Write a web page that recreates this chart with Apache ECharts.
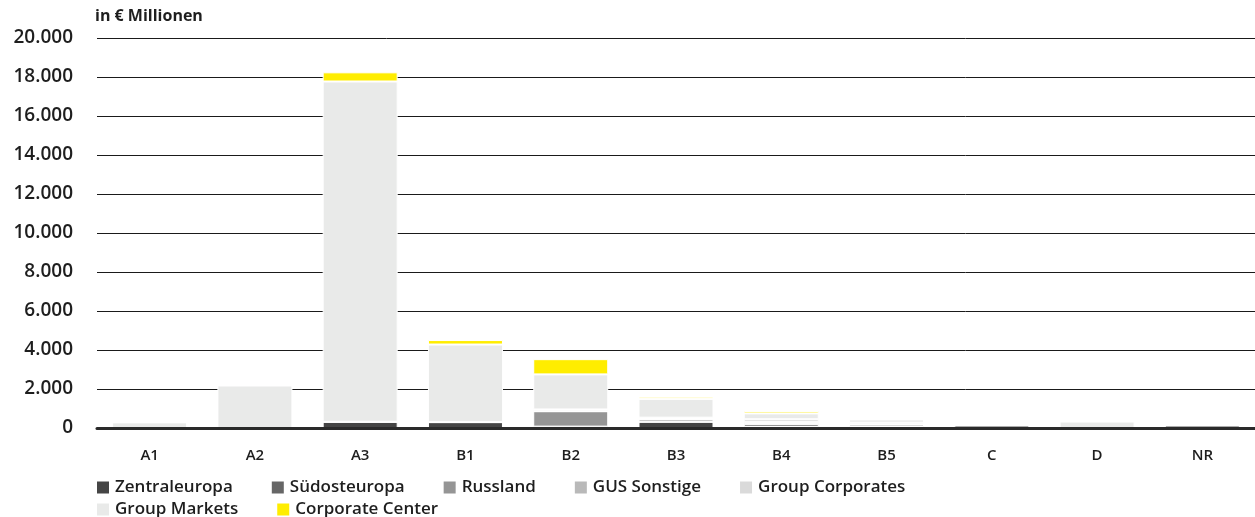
<!DOCTYPE html>
<html>
<head>
<meta charset="utf-8">
<script src="https://cdn.jsdelivr.net/npm/echarts@6/dist/echarts.min.js"></script>
<style>
  html, body { margin: 0; padding: 0; background: #fff; }
  #chart { width: 1255px; height: 517px; }
</style>
</head>
<body>
<div id="chart"></div>
<script>
// Categories along the x axis
const categories = ['A1', 'A2', 'A3', 'B1', 'B2', 'B3', 'B4', 'B5', 'C', 'D', 'NR'];

// Segment values per region, in € millions
const zentraleuropa   = [0,    0,    320,   300,  70,   320,  50,  50,  0,   0,   0];
const suedosteuropa   = [0,    0,    0,     0,    0,    0,    0,   0,   130, 0,   130];
const russland        = [0,    0,    0,     0,    790,  0,    160, 0,   0,   0,   0];
const gusSonstige     = [0,    0,    0,     0,    0,    140,  90,  130, 0,   0,   0];
const groupCorporates = [0,    0,    0,     0,    90,   70,   150, 90,  0,   0,   0];
const groupMarkets    = [290,  2180, 17450, 3980, 1800, 960,  300, 170, 0,   330, 0];
const corporateCenter = [0,    0,    470,   230,  780,  110,  120, 0,   0,   0,   0];

// Y axis range
const yMin = 0;
const yMax = 20000;
const yStep = 2000;

const seriesDefs = [
  { name: 'Zentraleuropa',    data: zentraleuropa,   color: '#454545' },
  { name: 'Südosteuropa',     data: suedosteuropa,   color: '#666666' },
  { name: 'Russland',         data: russland,        color: '#959595' },
  { name: 'GUS Sonstige',     data: gusSonstige,     color: '#b9b9b9' },
  { name: 'Group Corporates', data: groupCorporates, color: '#dadada' },
  { name: 'Group Markets',    data: groupMarkets,    color: '#e9eae9' },
  { name: 'Corporate Center', data: corporateCenter, color: '#ffed00' }
];

const FONT = '"Open Sans", "Noto Sans", sans-serif';
const TEXT = '#1e1e1e';

const fmt = v => String(v).replace(/\B(?=(\d{3})+(?!\d))/g, '.');

// Legend split into two rows with a tight row spacing
const legendRow = (names, top) => ({
  left: 95,
  top: top,
  orient: 'horizontal',
  itemWidth: 14,
  itemHeight: 14,
  itemGap: 37,
  icon: 'rect',
  padding: 0,
  textStyle: { fontFamily: FONT, fontSize: 17, fontWeight: 600, color: TEXT, lineHeight: 17 },
  data: names
});

const chart = echarts.init(document.getElementById('chart'), null, { renderer: 'canvas' });

chart.setOption({
  animation: false,
  textStyle: { fontFamily: FONT },
  grid: { left: 97, right: -9, top: 38, bottom: 89, containLabel: false },
  legend: [
    legendRow(seriesDefs.slice(0, 5).map(s => s.name), 479),
    legendRow(seriesDefs.slice(5).map(s => s.name), 501)
  ],
  xAxis: {
    type: 'category',
    data: categories,
    z: 10,
    axisLine: { show: true, lineStyle: { color: '#2a2a2a', width: 3 } },
    axisTick: { show: false },
    axisLabel: { color: TEXT, fontSize: 15, fontWeight: 600, margin: 20, fontFamily: FONT }
  },
  yAxis: {
    type: 'value',
    min: yMin,
    max: yMax,
    interval: yStep,
    name: 'in € Millionen',
    nameLocation: 'end',
    nameGap: 14,
    nameTextStyle: { color: TEXT, fontSize: 16, fontWeight: 700, align: 'left', fontFamily: FONT, padding: [0, 0, 0, -2] },
    axisLine: { show: false },
    axisTick: { show: false },
    splitLine: { lineStyle: { color: '#1a1a1a', width: 1 } },
    axisLabel: { color: TEXT, fontSize: 19, fontWeight: 600, margin: 24, formatter: fmt, fontFamily: FONT }
  },
  series: seriesDefs.map(s => ({
    name: s.name,
    type: 'bar',
    stack: 'total',
    data: s.data,
    barWidth: 75,
    itemStyle: { color: s.color, borderColor: '#ffffff', borderWidth: 1 },
    emphasis: { disabled: true }
  }))
});
</script>
</body>
</html>
